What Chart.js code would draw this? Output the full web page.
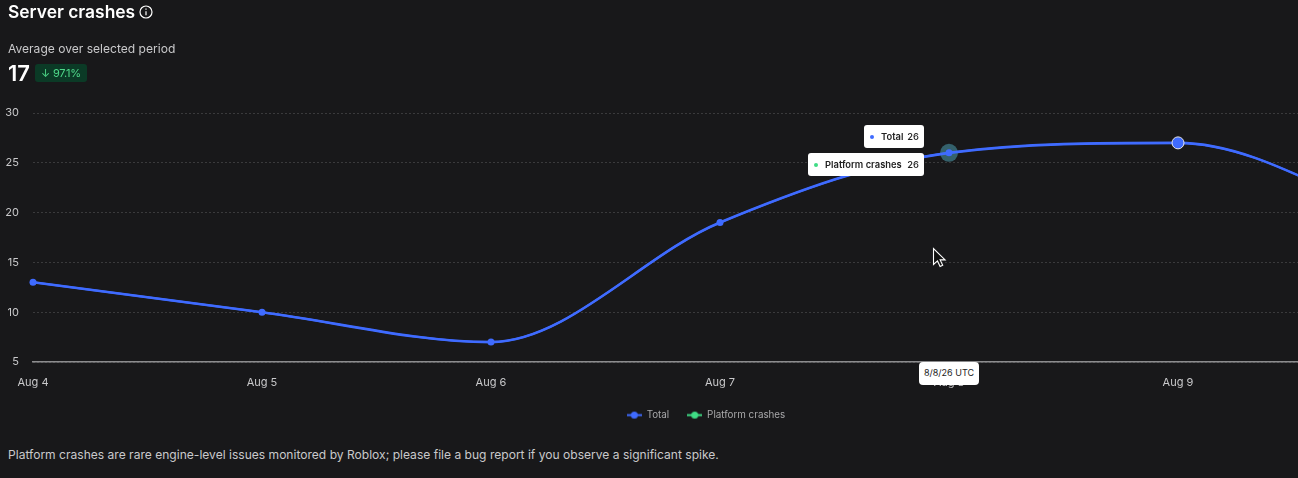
<!DOCTYPE html>
<html>
<head>
<meta charset="utf-8">
<script src="https://cdn.jsdelivr.net/npm/chart.js@4/dist/chart.umd.min.js"></script>
<style>
html, body { margin: 0; padding: 0; background: #18181a; overflow: hidden; width: 1298px; height: 478px; }
body { font-family: Inter, sans-serif; color: #fff; position: relative; }
#wrap { position: absolute; left: 0; top: 0; width: 1417px; height: 436px; }
.abs { position: absolute; white-space: nowrap; }
#title { left: 8px; top: 0; font-size: 17.4px; line-height: 24px; font-weight: 600; }
#sub { left: 8px; top: 41px; font-size: 12.07px; line-height: 15px; color: #c9c9cb; }
#avg { left: 8px; top: 60px; font-size: 22px; line-height: 27px; font-weight: 600; }
#badge { left: 35px; top: 64px; width: 52px; height: 18px; background: #0b3a26; border-radius: 3px; color: #4fd98a; font-size: 11px; line-height: 18px; text-align: center; letter-spacing: -.2px; }
#foot { left: 8px; top: 447px; font-size: 12.07px; line-height: 16px; color: #c9c9cb; }
.tip { background: #fff; color: #222; border-radius: 3px; font-size: 9.4px; font-weight: 600; height: 23px; line-height: 23px; box-sizing: border-box; }
.tip i { position: absolute; left: 6px; top: 9.5px; width: 4px; height: 4px; border-radius: 50%; }
.tip b { position: absolute; right: 5px; top: 0; font-weight: 500; }
.tip span { position: absolute; left: 17px; top: 0; }
#tipDate { left: 919px; top: 362px; width: 60px; height: 23px; background: #fff; color: #222; border-radius: 4px; font-size: 9px; line-height: 21px; text-align: center; }
</style>
</head>
<body>
<div id="wrap"><canvas id="myChart" width="1417" height="436"></canvas></div>

<div class="abs" id="title">Server crashes</div>
<svg class="abs" style="left:139px;top:5px" width="14" height="14" viewBox="0 0 14 14" fill="none" stroke="#fff" stroke-width="1.2"><circle cx="7" cy="7" r="6"/><path d="M7 6.2v4"/><path d="M7 3.6v1.2"/></svg>
<div class="abs" id="sub">Average over selected period</div>
<div class="abs" id="avg">17</div>
<div class="abs" id="badge">↓ 97.1%</div>

<div class="abs tip" style="left:864px;top:125px;width:60px"><i style="background:#3f6bff"></i><span>Total</span><b>26</b></div>
<div class="abs tip" style="left:808px;top:153px;width:116px"><i style="background:#3fdc85"></i><span>Platform crashes</span><b>26</b></div>
<div class="abs" id="tipDate">8/8/26 UTC</div>

<svg class="abs" style="left:932px;top:247px" width="16" height="22" viewBox="0 0 16 22"><path d="M1.5 1.5v16l4-3.6 2.6 5.6 2.6-1.2-2.6-5.4h5z" fill="#111" stroke="#fff" stroke-width="1.1"/></svg>

<div class="abs" id="foot">Platform crashes are rare engine-level issues monitored by Roblox; please file a bug report if you observe a significant spike.</div>

<script>
let categorias = ['Aug 4', 'Aug 5', 'Aug 6', 'Aug 7', 'Aug 8', 'Aug 9', 'Aug 10'];
let total = [13, 10, 7, 19, 26, 27, 19];
let platformCrashes = [13, 10, 7, 19, 26, 27, 19];
let yTicks = [5, 10, 15, 20, 25, 30];

let hoverIndex = 4;
let selectedIndex = 5;
let azul = '#3f6bff';
let verde = '#3fdc85';
let texto = '#c9c9cb';
let textoLegenda = '#a8a8aa';

// icone da legenda: linha curta com bolinha
function legendIcon(cor) {
    let c = document.createElement('canvas');
    c.width = 15;
    c.height = 9;
    let g = c.getContext('2d');
    g.strokeStyle = cor;
    g.fillStyle = cor;
    g.lineWidth = 2;
    g.beginPath();
    g.moveTo(0, 4.5);
    g.lineTo(15, 4.5);
    g.stroke();
    g.beginPath();
    g.arc(7.5, 4.5, 3.5, 0, Math.PI * 2);
    g.fill();
    return c;
}

let dados = {
    labels: categorias,
    datasets: [{
        label: 'Total',
        data: total,
        borderColor: azul,
        backgroundColor: azul,
        borderWidth: 2.6,
        cubicInterpolationMode: 'monotone',
        pointRadius: ctx => ctx.dataIndex === selectedIndex ? 6 : 3.5,
        pointBackgroundColor: azul,
        pointBorderColor: ctx => ctx.dataIndex === selectedIndex ? '#e8e8ee' : azul,
        pointBorderWidth: ctx => ctx.dataIndex === selectedIndex ? 1 : 0,
        order: 1
    }, {
        label: 'Platform crashes',
        data: platformCrashes,
        borderColor: azul,
        backgroundColor: verde,
        borderWidth: 2,
        cubicInterpolationMode: 'monotone',
        pointRadius: ctx => ctx.dataIndex === hoverIndex ? 9 : 0,
        pointBackgroundColor: 'rgba(80, 170, 190, 0.5)',
        pointBorderWidth: 0,
        order: 2
    }]
};

let opcoes = {
    responsive: false,
    animation: false,
    layout: { padding: { top: 113, left: 5, right: 10, bottom: 6 } },
    plugins: {
        tooltip: { enabled: false },
        legend: {
            position: 'bottom',
            labels: {
                color: textoLegenda,
                font: { family: 'Inter', size: 9.8 },
                usePointStyle: true,
                pointStyleWidth: 15,
                boxHeight: 8,
                padding: 18,
                generateLabels: chart => chart.data.datasets.map((d, i) => ({
                    text: d.label,
                    fontColor: textoLegenda,
                    pointStyle: legendIcon(i === 0 ? azul : verde),
                    lineWidth: 0,
                    strokeStyle: 'transparent',
                    datasetIndex: i
                }))
            }
        }
    },
    scales: {
        x: {
            offset: false,
            afterFit: scale => {
                scale.paddingRight = 0;
                scale.paddingLeft = 0;
                scale.height -= 4;
            },
            grid: { display: false },
            border: { color: '#8c8c8e', width: 1.5 },
            ticks: { color: texto, font: { family: 'Inter', size: 11 }, maxRotation: 0, autoSkip: false, padding: 6.5 }
        },
        y: {
            min: 5,
            max: 30,
            afterFit: scale => { scale.width = 28; },
            afterBuildTicks: scale => { scale.ticks = yTicks.map(v => ({ value: v })); },
            grid: { color: '#3a3a3c', tickLength: 0, drawTicks: false },
            border: { display: false, dash: [2, 2] },
            ticks: { color: texto, font: { family: 'Inter', size: 11 }, padding: 14 }
        }
    }
};

let ctx = document.getElementById('myChart');
let meuChart = new Chart(ctx, { type: 'line', data: dados, options: opcoes });
</script>
</body>
</html>
